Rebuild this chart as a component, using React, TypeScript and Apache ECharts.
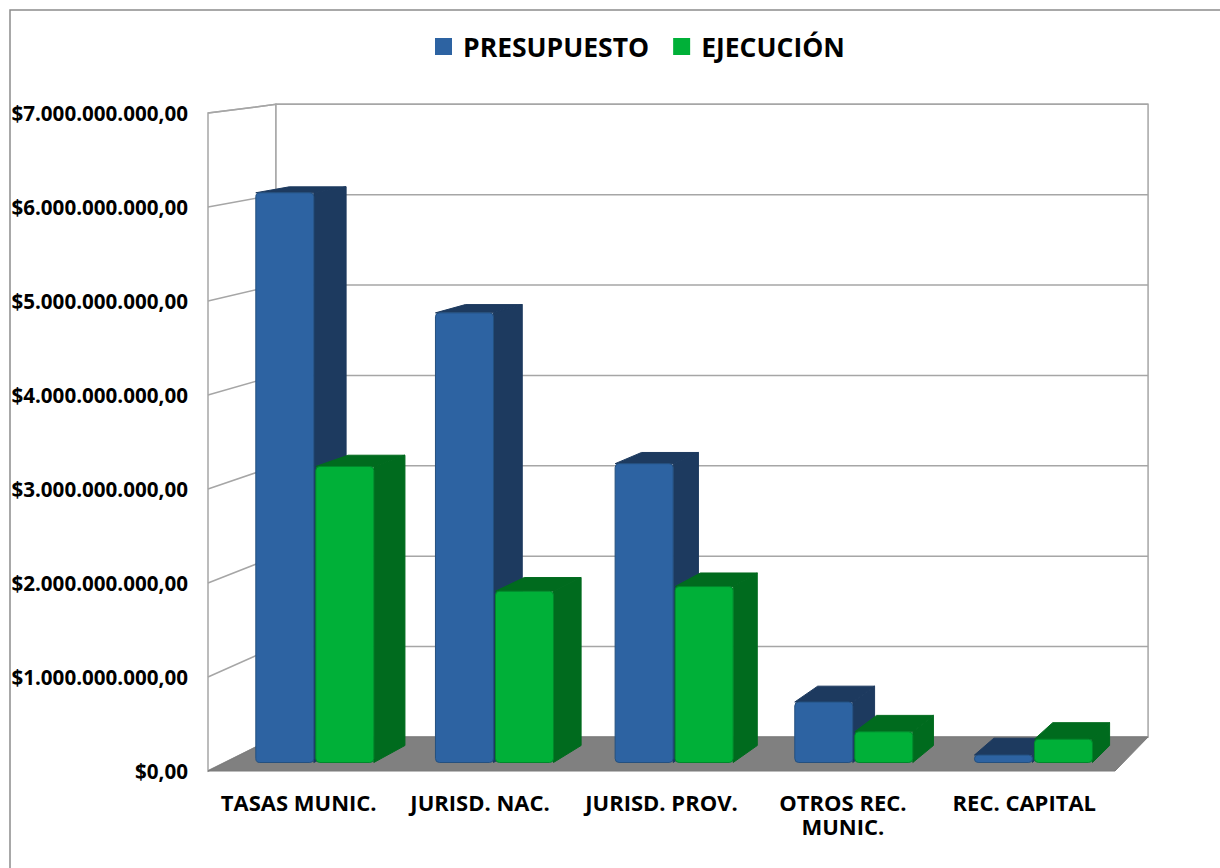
import React, { useEffect, useRef } from "react";
import * as echarts from "echarts";

// ---- data ----
const categories = ["TASAS MUNIC.", "JURISD. NAC.", "JURISD. PROV.", "OTROS REC.\nMUNIC.", "REC. CAPITAL"];
const presupuesto = [6.12e9, 4.83e9, 3.21e9, 0.65e9, 0.08e9];
const ejecucion = [3.18e9, 1.84e9, 1.89e9, 0.33e9, 0.25e9];
const seriesNames = ["PRESUPUESTO", "EJECUCIÓN"];
const yTicks = [0, 1e9, 2e9, 3e9, 4e9, 5e9, 6e9, 7e9];

// ---- style / perspective ----
const VPX = 1974;
const VPY = -112;
const BACK_SCALE = 0.9615;
const BAR_D0 = 0.25;
const BAR_D1 = 0.75;
const BAR_FRAC = 0.323;
const BAR_GAP = 2;
const FONT = "'Open Sans', 'Noto Sans', sans-serif";

const COLORS = [
  { front: "#2D63A2", dark: "#1D3A5F", edge: "#24507f" },
  { front: "#00B038", dark: "#006B1E", edge: "#00882b" },
];

function P(x: number, y: number, d: number): number[] {
  const s = 1 - d * (1 - BACK_SCALE);
  return [VPX + (x - VPX) * s, VPY + (y - VPY) * s];
}

function fmt(v: number): string {
  const s = Math.round(v).toString().replace(/\B(?=(\d{3})+(?!\d))/g, ".");
  return "$" + s + ",00";
}

function makeBarRender(k: number) {
  return (params: any, api: any) => {
    const i = api.value(0);
    const v = api.value(1);
    const base = api.coord([i, 0]);
    const top = api.coord([i, v]);
    const cx = base[0];
    const y0 = base[1];
    const yv = top[1];
    const bw = api.size([1, 0])[0];
    const w = bw * BAR_FRAC;
    const xl = k === 0 ? cx - w - BAR_GAP / 2 : cx + BAR_GAP / 2;
    const xr = xl + w;
    const c = COLORS[k];
    const fTL = P(xl, yv, BAR_D0);
    const fBR = P(xr, y0, BAR_D0);
    const topPoly = [P(xl, yv, BAR_D0), P(xr, yv, BAR_D0), P(xr, yv, BAR_D1), P(xl, yv, BAR_D1)];
    const sidePoly = [P(xr, yv, BAR_D0), P(xr, yv, BAR_D1), P(xr, y0, BAR_D1), P(xr, y0, BAR_D0)];
    return {
      type: "group",
      children: [
        { type: "polygon", shape: { points: topPoly }, style: { fill: c.dark, stroke: c.dark, lineWidth: 1, lineJoin: "round" } },
        { type: "polygon", shape: { points: sidePoly }, style: { fill: c.dark, stroke: c.dark, lineWidth: 1, lineJoin: "round" } },
        {
          type: "rect",
          shape: { x: fTL[0], y: fTL[1], width: fBR[0] - fTL[0], height: fBR[1] - fTL[1], r: 4 },
          style: { fill: c.front, stroke: c.edge, lineWidth: 1 },
        },
      ],
    };
  };
}

function renderBackground(params: any, api: any) {
  const cs = params.coordSys;
  const x0 = cs.x;
  const x1 = cs.x + cs.width;
  const yB = api.coord([0, yTicks[0]])[1];
  const yT = api.coord([0, yTicks[yTicks.length - 1]])[1];
  const wallStroke = "#a6a6a6";
  const children: any[] = [];
  children.push({
    type: "polygon",
    shape: { points: [P(x0, yT, 0), P(x0, yT, 1), P(x0, yB, 1), P(x0, yB, 0)] },
    style: { fill: "#ffffff", stroke: wallStroke, lineWidth: 1.5 },
  });
  children.push({
    type: "polygon",
    shape: { points: [P(x0, yT, 1), P(x1, yT, 1), P(x1, yB, 1), P(x0, yB, 1)] },
    style: { fill: "#ffffff", stroke: wallStroke, lineWidth: 1.5 },
  });
  yTicks.forEach((t) => {
    const y = api.coord([0, t])[1];
    children.push({
      type: "polyline",
      shape: { points: [P(x0, y, 0), P(x0, y, 1), P(x1, y, 1)] },
      style: { fill: null, stroke: wallStroke, lineWidth: 1.5 },
    });
  });
  children.push({
    type: "polygon",
    shape: { points: [P(x0, yB, 0), P(x1, yB, 0), P(x1, yB, 1), P(x0, yB, 1)] },
    style: { fill: "#808080", stroke: "#7a7a7a", lineWidth: 1 },
  });
  return { type: "group", children };
}

export default function App() {
  const ref = useRef<HTMLDivElement>(null);
  useEffect(() => {
    if (!ref.current) return;
    const chart = echarts.init(ref.current, null, { renderer: "svg" });
    const barData = [presupuesto, ejecucion];
    chart.setOption({
      animation: false,
      backgroundColor: "#ffffff",
      textStyle: { fontFamily: FONT },
      graphic: [
        {
          type: "rect",
          shape: { x: 10, y: 10, width: 1230, height: 880 },
          style: { fill: "none", stroke: "#8c8c8c", lineWidth: 1.5 },
          silent: true,
          z: 0,
        },
      ],
      legend: {
        data: seriesNames,
        top: 28,
        left: 430,
        itemWidth: 17,
        itemHeight: 17,
        itemGap: 24,
        icon: "rect",
        textStyle: { fontFamily: FONT, fontWeight: "bold", fontSize: 26.5, color: "#000", padding: [0, 0, 0, 6] },
      },
      grid: { left: 208, right: 105, top: 113, bottom: 97 },
      xAxis: {
        type: "category",
        data: categories,
        axisLine: { show: false },
        axisTick: { show: false },
        splitLine: { show: false },
        axisLabel: {
          interval: 0,
          fontFamily: FONT,
          fontWeight: "bold",
          fontSize: 22,
          color: "#000",
          margin: 19,
          lineHeight: 24,
        },
      },
      yAxis: {
        type: "value",
        min: 0,
        max: 7e9,
        interval: 1e9,
        axisLine: { show: false },
        axisTick: { show: false },
        splitLine: { show: false },
        axisLabel: {
          fontFamily: FONT,
          fontWeight: "bold",
          fontSize: 20.6,
          color: "#000",
          margin: 20,
          formatter: (v: number) => fmt(v),
        },
      },
      series: [
        {
          type: "custom",
          name: "bg",
          z: 1,
          silent: true,
          renderItem: renderBackground,
          data: [[0, 0]],
          encode: { x: 0, y: 1 },
        },
        ...seriesNames.map((name, k) => ({
          type: "custom",
          name,
          z: 5,
          itemStyle: { color: COLORS[k].front },
          renderItem: makeBarRender(k),
          data: categories.map((_, i) => [i, barData[k][i]]),
          encode: { x: 0, y: 1 },
        })),
      ],
    });
    return () => chart.dispose();
  }, []);
  return (
    <div
      ref={ref}
      style={{ position: "absolute", left: 0, top: 0, width: 1220, height: 868 }}
    />
  );
}
